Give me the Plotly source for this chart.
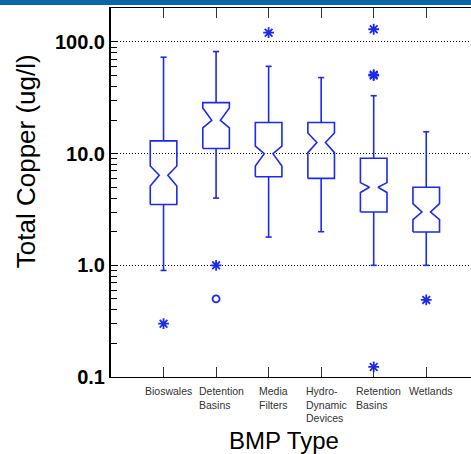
import plotly.graph_objects as go

# ---- data ----
categories = ["Bioswales", "Detention<br>Basins", "Media<br>Filters",
              "Hydro-<br>Dynamic<br>Devices", "Retention<br>Basins", "Wetlands"]
whisker_low = [0.90, 4.0, 1.79, 2.0, 1.0, 1.0]
q1 = [3.5, 11.1, 6.2, 6.0, 3.0, 1.99]
notch_low = [5.13, 17.0, 7.75, 10.2, 4.48, 2.57]
median = [6.4, 19.9, 10.0, 12.6, 5.0, 3.0]
notch_high = [7.75, 25.6, 11.7, 15.3, 5.5, 3.57]
q3 = [13.0, 28.6, 19.0, 19.0, 9.1, 5.0]
whisker_high = [73.0, 82.0, 60.5, 48.0, 33.0, 15.7]
outliers_star = [[0.30], [1.0], [121.0], [], [130.0, 50.0, 51.0, 0.123], [0.49]]
outliers_circle = [[], [0.50], [], [], [], []]

ytick_vals = [0.1, 1, 10, 100]
ytick_text = ["0.1", "1.0", "10.0", "100.0"]

BLUE = "#1a2af0"
FONT = "Liberation Sans, Arial, sans-serif"

fig = go.Figure()

hw = 0.253   # box half width (category units)
nw = 0.082   # notch inner half width
cw = 0.058   # whisker cap half width

for i, name in enumerate(categories):
    x = i + 1
    bx = [x - hw, x - hw, x - nw, x - hw, x - hw, x + hw, x + hw, x + nw, x + hw, x + hw, x - hw]
    by = [q1[i], notch_low[i], median[i], notch_high[i], q3[i], q3[i],
          notch_high[i], median[i], notch_low[i], q1[i], q1[i]]
    fig.add_trace(go.Scatter(x=bx, y=by, mode="lines",
                             line=dict(color=BLUE, width=1.6), showlegend=False,
                             hoverinfo="skip"))
    wx = [x, x, None, x - cw, x + cw, None, x, x, None, x - cw, x + cw]
    wy = [q3[i], whisker_high[i], None, whisker_high[i], whisker_high[i], None,
          q1[i], whisker_low[i], None, whisker_low[i], whisker_low[i]]
    fig.add_trace(go.Scatter(x=wx, y=wy, mode="lines",
                             line=dict(color=BLUE, width=1.6), showlegend=False,
                             hoverinfo="skip"))
    if outliers_star[i]:
        fig.add_trace(go.Scatter(x=[x] * len(outliers_star[i]), y=outliers_star[i],
                                 mode="markers",
                                 marker=dict(symbol="asterisk-open", size=9, color=BLUE,
                                             line=dict(color=BLUE, width=1.8)),
                                 showlegend=False))
    if outliers_circle[i]:
        fig.add_trace(go.Scatter(x=[x] * len(outliers_circle[i]), y=outliers_circle[i],
                                 mode="markers",
                                 marker=dict(symbol="circle-open", size=7, color=BLUE,
                                             line=dict(color=BLUE, width=1.8)),
                                 showlegend=False))

# category labels (left-aligned multi-line, as in reference)
for i, name in enumerate(categories):
    fig.add_annotation(x=i + 1, y=0, xref="x", yref="paper", text=name,
                       showarrow=False, xanchor="center", yanchor="top",
                       align="left", xshift=5, yshift=-6,
                       font=dict(family=FONT, size=10.5, color="#333333"))

fig.add_annotation(x=0.5, y=0, xref="paper", yref="paper", text="BMP Type",
                   showarrow=False, xanchor="center", yanchor="top", yshift=-48,
                   xshift=-7, font=dict(family=FONT, size=24, color="black"))
fig.add_annotation(x=-0.236, y=0.585, xref="paper", yref="paper",
                   text="Total Copper (ug/l)", textangle=-90,
                   showarrow=False, xanchor="center", yanchor="middle",
                   font=dict(family=FONT, size=26, color="black"))

minor_vals = [m * 10 ** e for e in range(-1, 3) for m in range(2, 10)]

fig.update_layout(
    width=471, height=454,
    margin=dict(l=111, r=0, t=8, b=77),
    paper_bgcolor="white", plot_bgcolor="white",
    font=dict(family=FONT),
    xaxis=dict(range=[0, 6.852], showline=True, linecolor="black", linewidth=1.2,
               mirror="ticks", ticks="inside", ticklen=10, tickwidth=1.2,
               tickcolor="#333333", tickvals=[1, 2, 3, 4, 5, 6],
               showticklabels=False, showgrid=False, zeroline=False),
    yaxis=dict(type="log", range=[-1, 2.304], showline=True, linecolor="black",
               linewidth=2, ticks="inside", ticklen=7, tickwidth=1.2,
               tickcolor="black", tickvals=ytick_vals, ticktext=ytick_text,
               tickfont=dict(family="Liberation Sans", size=20, color="black",
                             weight="bold"),
               showgrid=True, gridcolor="black", griddash="1px,2px", gridwidth=1,
               zeroline=False,
               minor=dict(tickvals=minor_vals, ticks="inside", ticklen=6,
                          tickwidth=1.2, tickcolor="black", showgrid=False)),
    shapes=[
        dict(type="rect", xref="paper", yref="paper",
             x0=-111 / 360, x1=1, y0=1 + 3 / 369, y1=1 + 8 / 369,
             fillcolor="#0a66ab", line=dict(width=0), layer="above"),
    ],
)

fig.write_html("out.html",
               config={"displayModeBar": False},
               post_script="document.body.style.margin='0';"
                           "document.body.style.overflow='hidden';")
